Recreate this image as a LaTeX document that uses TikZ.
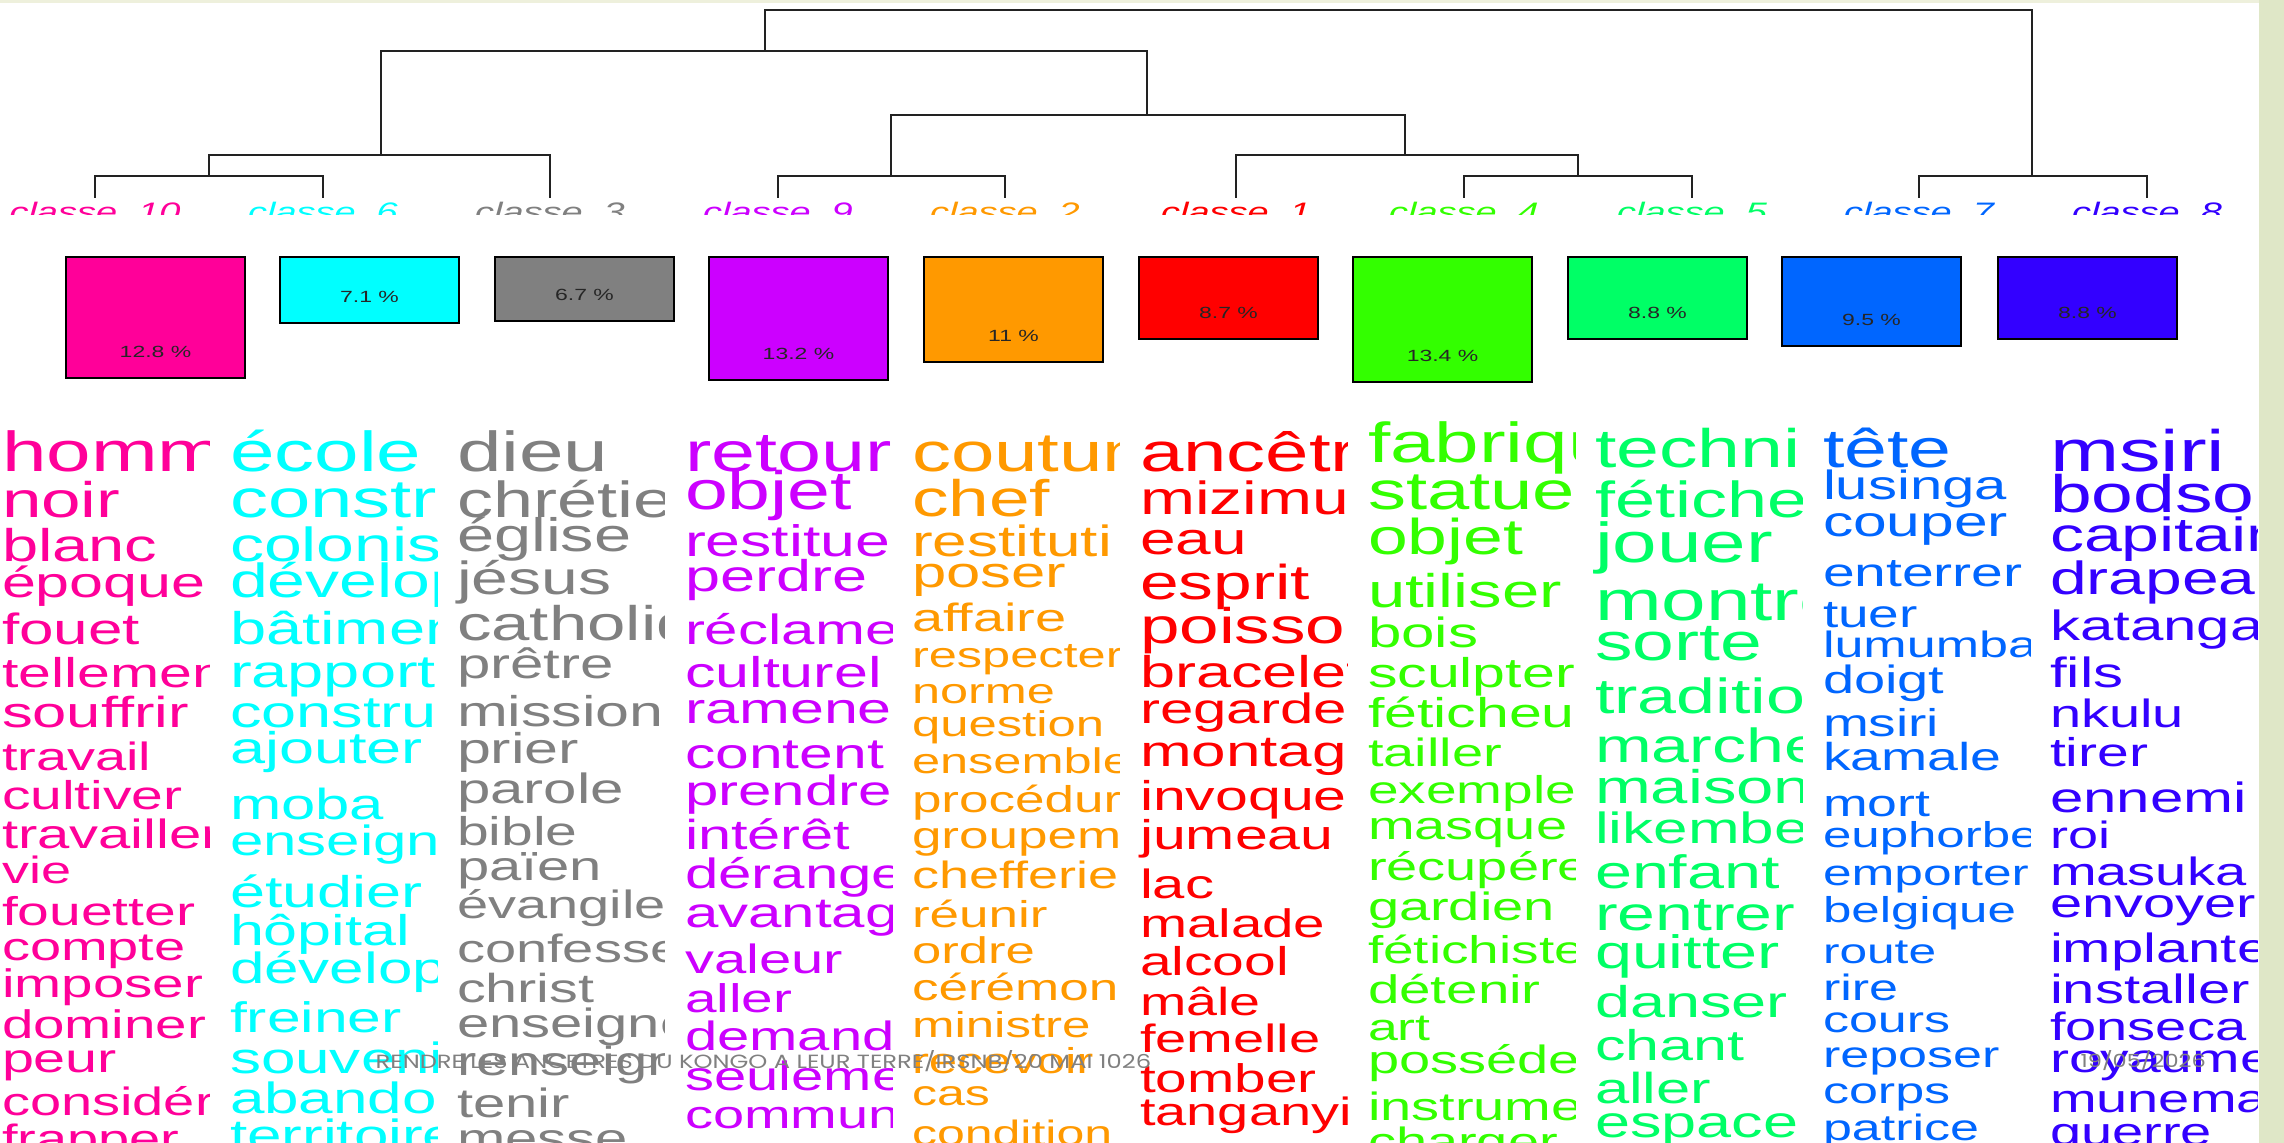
\documentclass[tikz,border=0pt]{standalone}
\usepackage{fontspec}
\usepackage{graphicx}
\setmainfont{Liberation Sans}
\newfontfamily\footfont{Poppins}
\definecolor{c10}{HTML}{FF0099}
\definecolor{c6}{HTML}{00FFFF}
\definecolor{c3}{HTML}{808080}
\definecolor{c9}{HTML}{CC00FF}
\definecolor{c2}{HTML}{FF9900}
\definecolor{c1}{HTML}{FF0000}
\definecolor{c4}{HTML}{33FF00}
\definecolor{c5}{HTML}{00FF66}
\definecolor{c7}{HTML}{0066FF}
\definecolor{c8}{HTML}{3300FF}
\definecolor{band}{HTML}{DFE7C7}
\definecolor{topband}{HTML}{EEF0DC}
\definecolor{dendro}{HTML}{222222}
\definecolor{foot}{HTML}{808080}
\newcommand\kx{1.42}
\tikzset{
  wordsty/.style={anchor=base west, inner sep=0pt, outer sep=0pt},
  tree/.style={draw=dendro, line width=0.8pt, line join=miter},
  clbox/.style={draw=black, line width=0.65pt},
  pct/.style={inner sep=0pt, text=black!85, font=\fontsize{4.6pt}{4.6pt}\selectfont},
  clab/.style={anchor=base, inner sep=0pt, font=\fontsize{7.6pt}{7.6pt}\selectfont\itshape},
  footsty/.style={anchor=base west, inner sep=0pt, text=foot}
}
\newcommand\wordcol[4]{%
  \begin{scope}
    \clip (#2-3,420) rectangle (#2+207,1143);
    \foreach \wy/\we/\wt [count=\wi] in {#4} {
      \pgfmathsetmacro\fs{\we*0.2845/\kx}
      \node[wordsty, text=#3] (#1\wi) at (#2,\wy) {\fontsize{\fs pt}{\fs pt}\selectfont\scalebox{\kx}[1]{\wt}};
    }
  \end{scope}}
\newcommand\clabel[3]{\node[clab, text=#2] (lab#1) at (#3,222) {\scalebox{\kx}[1]{classe\ \ #1}};}
\begin{document}
\begin{tikzpicture}[x=0.01cm,y=-0.01cm]
\useasboundingbox (0,0) rectangle (2284,1143);
\fill[white] (0,0) rectangle (2284,1143);

% dendrogram
\draw[tree] (95,198) -- (95,176) -- (323,176) -- (323,198);
\draw[tree] (209,176) -- (209,155) -- (550,155) -- (550,198);
\draw[tree] (381,155) -- (381,51) -- (1147,51) -- (1147,115);
\draw[tree] (778,198) -- (778,176) -- (1005,176) -- (1005,198);
\draw[tree] (1464,198) -- (1464,176) -- (1692,176) -- (1692,198);
\draw[tree] (1236,198) -- (1236,155) -- (1578,155) -- (1578,176);
\draw[tree] (891,176) -- (891,115) -- (1405,115) -- (1405,155);
\draw[tree] (1919,198) -- (1919,176) -- (2147,176) -- (2147,198);
\draw[tree] (765,51) -- (765,10) -- (2032,10) -- (2032,176);

% class labels (cut at the bottom)
\begin{scope}
\clip (0,199) rectangle (2284,215);
\clabel{10}{c10}{95}
\clabel{6}{c6}{323}
\clabel{3}{c3}{550}
\clabel{9}{c9}{778}
\clabel{2}{c2}{1005}
\clabel{1}{c1}{1236}
\clabel{4}{c4}{1464}
\clabel{5}{c5}{1692}
\clabel{7}{c7}{1919}
\clabel{8}{c8}{2147}
\end{scope}

% boxes
\foreach \bl/\bb/\bc/\bt [count=\bi] in {66/378/c10/12.8 \%, 280/323/c6/7.1 \%, 495/321/c3/6.7 \%, 709/380/c9/13.2 \%, 924/362/c2/11 \%, 1139/339/c1/8.7 \%, 1353/382/c4/13.4 \%, 1568/339/c5/8.8 \%, 1782/346/c7/9.5 \%, 1998/339/c8/8.8 \%} {
  \filldraw[clbox, fill=\bc] (\bl,257) rectangle (\bl+179,\bb);
  \node[pct] (pct\bi) at (\bl+89.5,\bb-26) {\scalebox{\kx}[1]{\bt}};
}

% word columns
\wordcol{wa}{2}{c10}{472/80/homm, 518/71/noir, 562/65/blanc, 597/61/époque, 645/62/fouet, 687/59/tellemen, 728/61.5/souffrir, 770/56/travail, 809/57/cultiver, 848/58/travailler, 883/54/vie, 925/57/fouetter, 960/56/compte, 997/56.5/imposer, 1038/56.5/dominer, 1072/57.5/peur, 1115/56/considér, 1152/56/frapper}
\wordcol{wb}{230}{c6}{472/80/école, 518/76/constr, 562/68/colonis, 597/68/dévelop, 645/65/bâtimen, 687/65/rapport, 728/63/constru, 763/63/ajouter, 820/61.6/moba, 855/60/enseign, 907/63/étudier, 945/61/hôpital, 983/62/dévelop, 1032/60.6/freiner, 1073/62/souveni, 1113/62/abandon, 1150/62/territoire}
\wordcol{wc}{457}{c3}{472/80/dieu, 518/72/chrétie, 552/66.7/église, 595/66/jésus, 640/69/catholiq, 679/60/prêtre, 726/61/mission, 763/61/prier, 803/60/parole, 845/57/bible, 880/58/païen, 918/56/évangile, 962/56/confesse, 1002/57.5/christ, 1037/58/enseigne, 1075/58/renseign, 1117/58/tenir, 1152/58/messe}
\wordcol{wd}{685}{c9}{472/79/retour, 510/77/objet, 557/62.6/restitue, 592/63/perdre, 645/60/réclame, 687/61/culturel, 724/61/ramene, 768/60.6/content, 805/60/prendre, 850/59.5/intérêt, 888/60/dérange, 927/60/avantag, 973/58/valeur, 1012/56.7/aller, 1050/58/demande, 1090/58/seulemen, 1128/56/commun}
\wordcol{we}{912}{c2}{472/78/coutum, 517/73/chef, 557/62/restituti, 588/61.6/poser, 632/56/affaire, 667/50.5/respecter, 703/50.4/norme, 737/50.8/question, 773/50.5/ensemble, 812/53/procédur, 848/53/groupeme, 888/54/chefferie, 927/53/réunir, 963/52.6/ordre, 1000/53/cérémon, 1037/51/ministre, 1073/51/recevoir, 1105/50/cas, 1145/50/condition}
\wordcol{wf}{1140}{c1}{472/78/ancêtr, 515/66/mizimu, 555/64/eau, 600/69.5/esprit, 643/71/poisso, 687/63/bracelet, 723/60/regarder, 767/62/montagn, 810/59/invoque, 850/59/jumeau, 898/58/lac, 937/56.5/malade, 975/57/alcool, 1015/55.6/mâle, 1052/56/femelle, 1092/56.7/tomber, 1125/56/tanganyi}
\wordcol{wg}{1368}{c4}{463/80/fabriqu, 510/76/statue, 555/71.5/objet, 607/67/utiliser, 648/60/bois, 687/59/sculpter, 728/59/féticheur, 767/56/tailler, 803/55/exemple, 840/56/masque, 880/56/récupére, 920/56/gardien, 963/55/fétichiste, 1003/56.5/détenir, 1040/53.6/art, 1073/56/posséder, 1120/56/instrumen, 1155/56/charger}
\wordcol{wh}{1595}{c5}{468/77/techniq, 518/72/fétiche, 563/80/jouer, 620/80/montre, 660/75/sorte, 713/70/traditio, 762/68/marcher, 803/67/maison, 843/62/likembe, 888/66.5/enfant, 930/68/rentrer, 968/66.5/quitter, 1017/63/danser, 1060/61/chant, 1103/61.5/aller, 1137/63/espace}
\wordcol{wi}{1823}{c7}{468/77/tête, 500/58/lusinga, 537/60.5/couper, 587/57/enterrer, 627/55/tuer, 658/52/lumumba, 693/56/doigt, 737/55/msiri, 770/55.4/kamale, 817/53.6/mort, 847/51/euphorbe, 885/51.4/emporter, 922/51/belgique, 963/49.6/route, 1000/52/rire, 1032/52/cours, 1067/52/reposer, 1103/52/corps, 1140/52/patrice}
\wordcol{wj}{2050}{c8}{472/83/msiri, 513/75/bodson, 552/68/capitain, 595/66/drapeau, 640/60/katanga, 687/60/fils, 728/56/nkulu, 767/57/tirer, 812/60/ennemi, 848/54/roi, 885/56/masuka, 917/57.8/envoyer, 962/58/implanter, 1003/58/installer, 1040/56/fonseca, 1072/57/royaume, 1112/56/munema, 1145/56/guerre}

% footer
\node[footsty] (foottitle) at (375,1068) {\resizebox{7.75cm}{0.18cm}{\footfont RENDRE LES ANCETRES DU KONGO A LEUR TERRE/IRSNB/20 MAI 1026}};
\node[footsty] (footdate) at (2080,1067) {\resizebox{1.25cm}{0.17cm}{\footfont 19/05/2026}};

% slide frame bands
\fill[band] (2259,0) rectangle (2284,1143);
\fill[topband] (0,0) rectangle (2259,3);
\end{tikzpicture}
\end{document}
